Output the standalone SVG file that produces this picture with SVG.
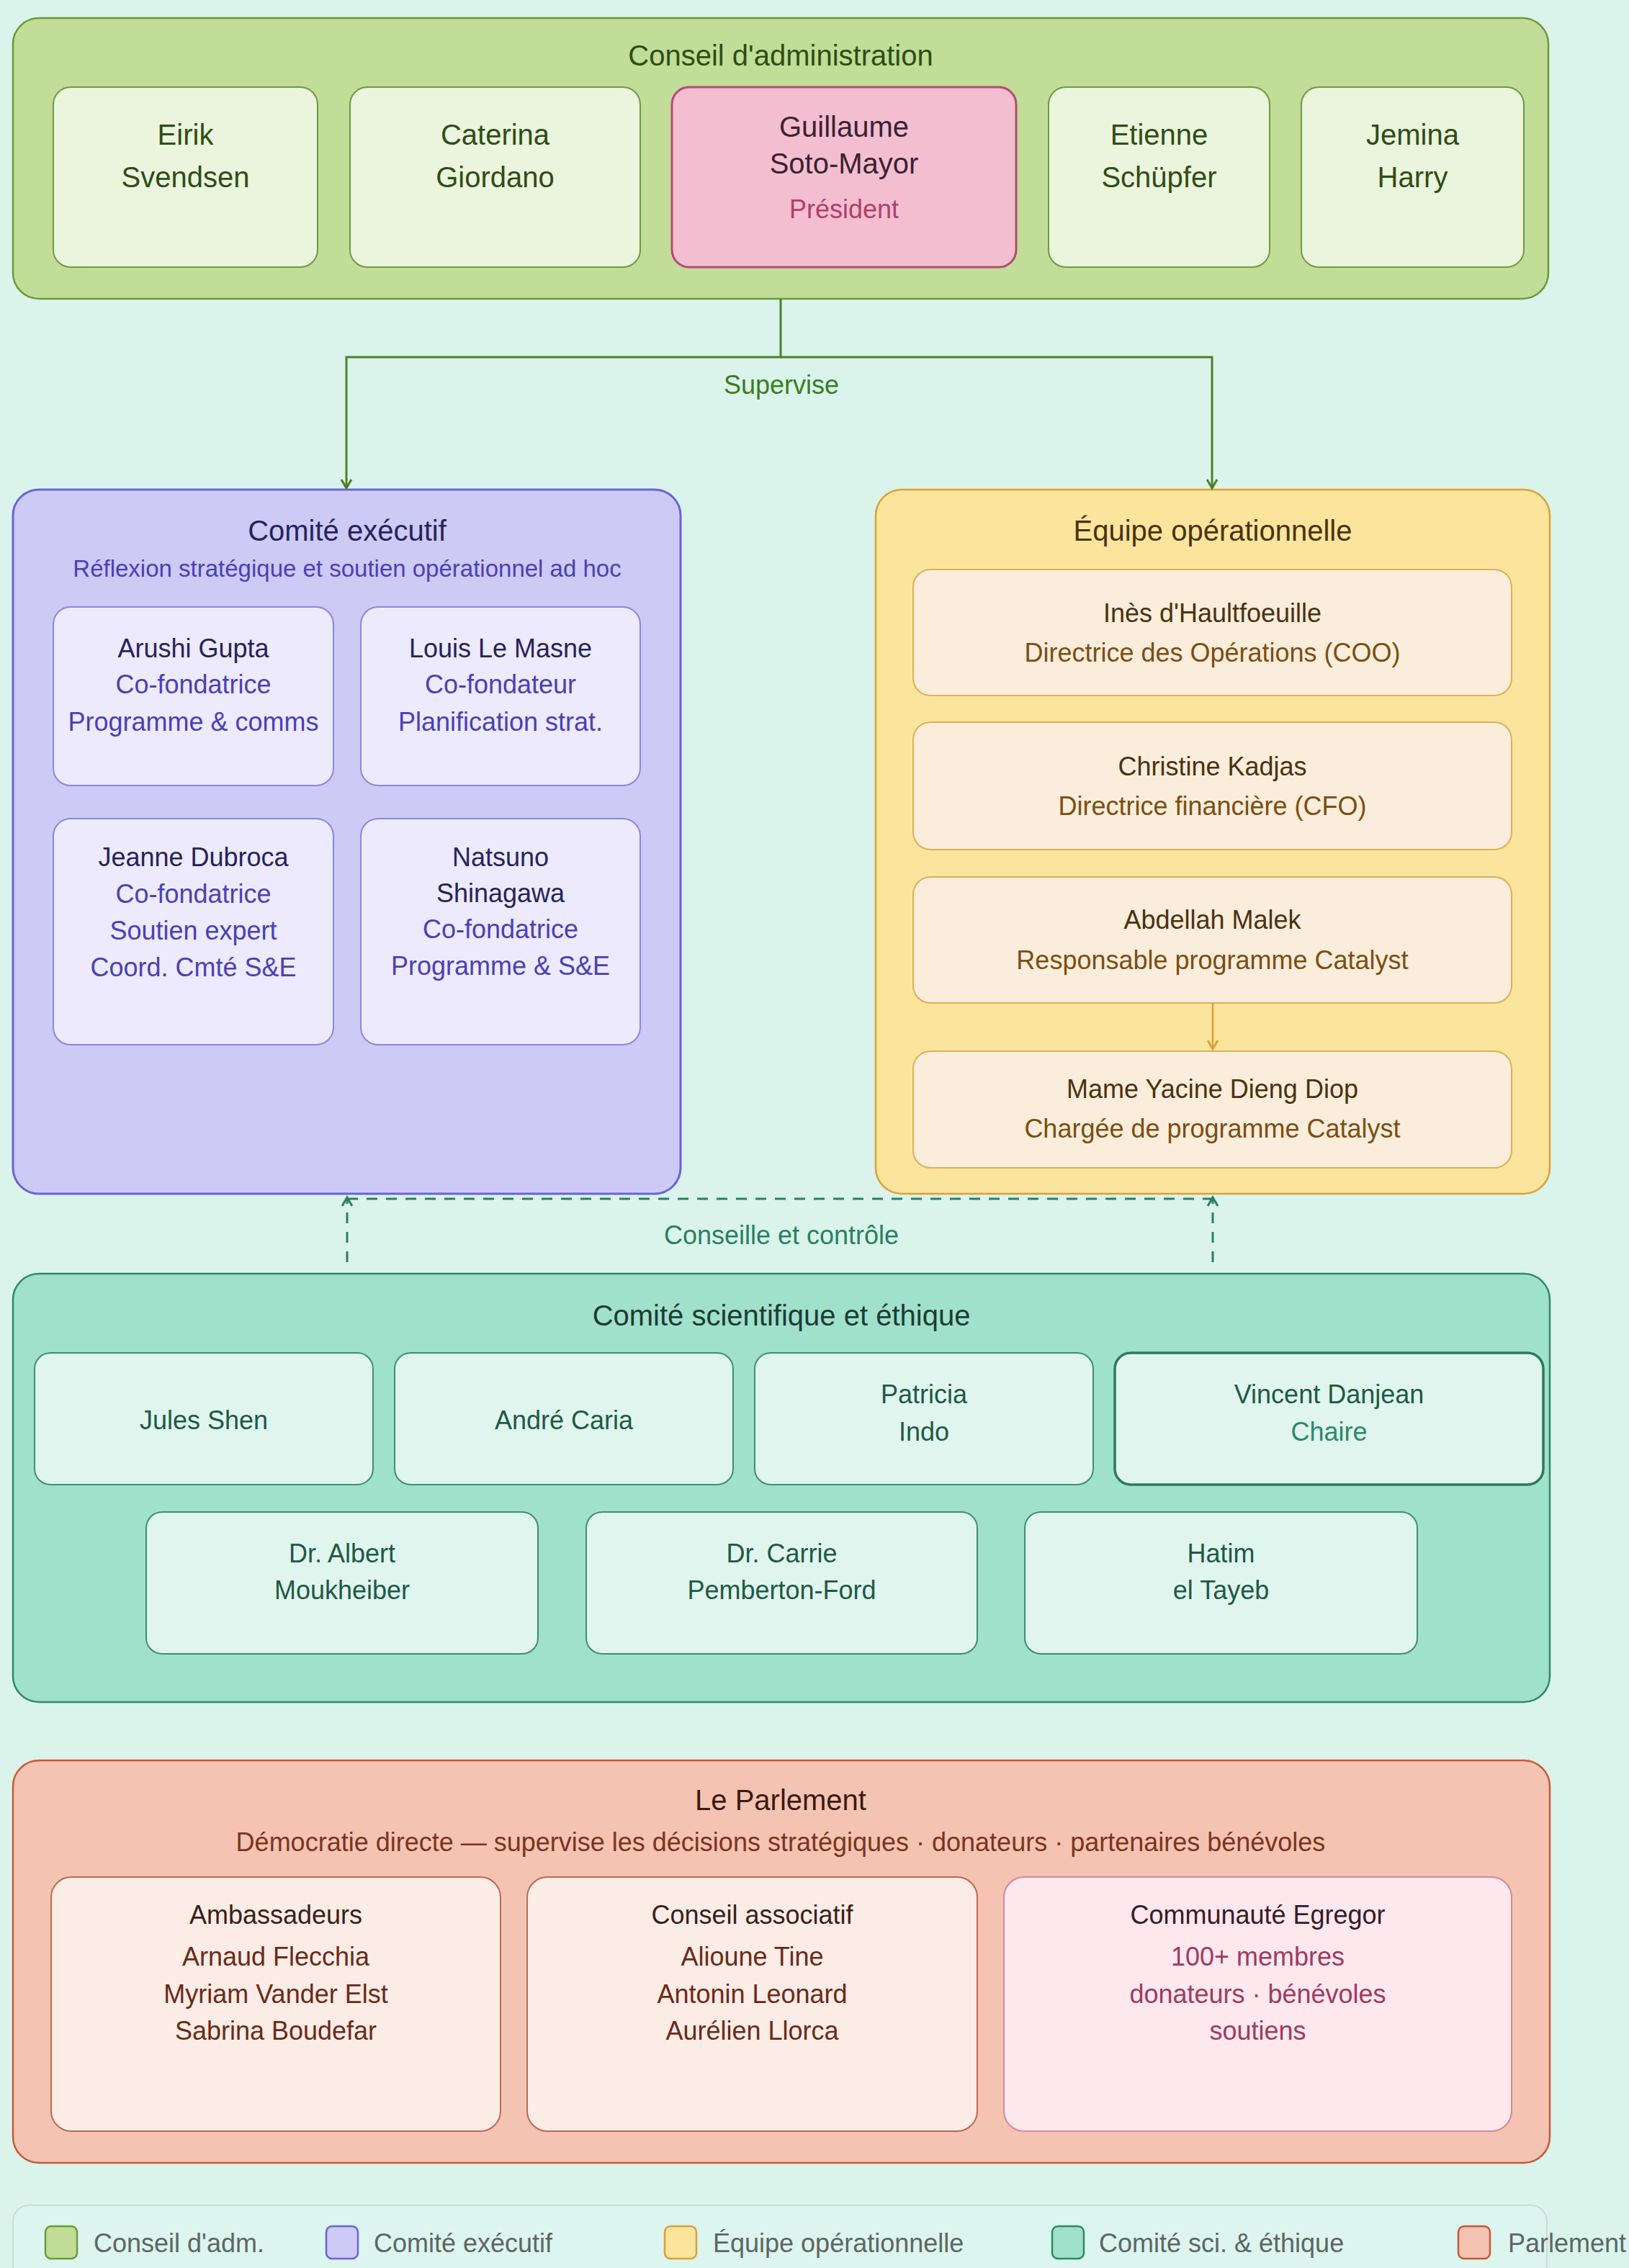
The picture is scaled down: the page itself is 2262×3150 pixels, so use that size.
<svg xmlns="http://www.w3.org/2000/svg" width="2262" height="3150" viewBox="0 0 2262 3150">
<style>
text{font-family:"Liberation Sans",Arial,Helvetica,sans-serif;text-anchor:middle;font-size:36px}
.t40{font-size:40px}
.lg{text-anchor:start;fill:#5e6663}
.board{fill:#c1dd97;stroke:#6b9b3b;stroke-width:2.5}
.bm{fill:#ebf4dd;stroke:#6e9a45;stroke-width:2}
.bt{fill:#2f4d16}
.pres{fill:#f4bed1;stroke:#b44b72;stroke-width:3}
.exec{fill:#cdcaf5;stroke:#6b63d6;stroke-width:3}
.em{fill:#eceafc;stroke:#8d86dc;stroke-width:2}
.en{fill:#27235a}
.er{fill:#4b40b4}
.ops{fill:#fbe59d;stroke:#d9a13a;stroke-width:2.5}
.om{fill:#fbeddb;stroke:#dfae5c;stroke-width:2}
.on{fill:#4a3210}
.or{fill:#7b4e12}
.sci{fill:#a0e1cc;stroke:#2f8a66;stroke-width:2.5}
.sm{fill:#e0f5ee;stroke:#3f8f6e;stroke-width:2}
.st{fill:#1e5a44}
.parl{fill:#f5c3b1;stroke:#c55a3a;stroke-width:2.5}
.pm{fill:#fbece6;stroke:#b86a55;stroke-width:2}
.ph{fill:#3a1f18}
.pn{fill:#6b2a18}
.cm{fill:#fde8ee;stroke:#d9869f;stroke-width:2}
.cn{fill:#a03a60}
.sup{fill:none;stroke:#4e7f2a;stroke-width:3}
.adv{fill:none;stroke:#2a8060;stroke-width:3;stroke-dasharray:15 12}
</style>
<defs>
<marker id="arG" markerUnits="userSpaceOnUse" markerWidth="20" markerHeight="20" viewBox="-14 -10 16 20" refX="0" refY="0" orient="auto"><path d="M-12,-7 L0,0 L-12,7" fill="none" stroke="#4e7f2a" stroke-width="3"/></marker>
<marker id="arT" markerUnits="userSpaceOnUse" markerWidth="20" markerHeight="20" viewBox="-14 -10 16 20" refX="0" refY="0" orient="auto"><path d="M-12,-7 L0,0 L-12,7" fill="none" stroke="#2a8060" stroke-width="3"/></marker>
<marker id="arO" markerUnits="userSpaceOnUse" markerWidth="20" markerHeight="20" viewBox="-14 -10 16 20" refX="0" refY="0" orient="auto"><path d="M-12,-7 L0,0 L-12,7" fill="none" stroke="#d9a13a" stroke-width="3"/></marker>
</defs>
<rect x="0" y="0" width="2262" height="3150" fill="#daf4ec"/>

<g id="conseil">
<rect class="board" x="18" y="25" width="2132" height="390" rx="36"/>
<text class="t40 bt" x="1084" y="91">Conseil d'administration</text>
<g id="eirik"><rect class="bm" x="74" y="121" width="367" height="250" rx="24"/><text class="t40 bt" x="257.5" y="201">Eirik</text><text class="t40 bt" x="257.5" y="260">Svendsen</text></g>
<g id="caterina"><rect class="bm" x="486" y="121" width="403" height="250" rx="24"/><text class="t40 bt" x="687.5" y="201">Caterina</text><text class="t40 bt" x="687.5" y="260">Giordano</text></g>
<g id="guillaume"><rect class="pres" x="933" y="121" width="478" height="250" rx="24"/><text class="t40" x="1172" y="190" fill="#3b2230">Guillaume</text><text class="t40" x="1172" y="241" fill="#3b2230">Soto-Mayor</text><text x="1172" y="303" fill="#b0406a">Président</text></g>
<g id="etienne"><rect class="bm" x="1456" y="121" width="307" height="250" rx="24"/><text class="t40 bt" x="1609.5" y="201">Etienne</text><text class="t40 bt" x="1609.5" y="260">Schüpfer</text></g>
<g id="jemina"><rect class="bm" x="1807" y="121" width="309" height="250" rx="24"/><text class="t40 bt" x="1961.5" y="201">Jemina</text><text class="t40 bt" x="1961.5" y="260">Harry</text></g>
</g>

<g id="comite-executif">
<rect class="exec" x="18" y="680" width="927" height="978" rx="36"/>
<text class="t40 en" x="482" y="751">Comité exécutif</text>
<text class="er" x="482" y="801" style="font-size:33px">Réflexion stratégique et soutien opérationnel ad hoc</text>
<g id="arushi"><rect class="em" x="74" y="843" width="389" height="248" rx="24"/><text class="en" x="268.5" y="913">Arushi Gupta</text><text class="er" x="268.5" y="963">Co-fondatrice</text><text class="er" x="268.5" y="1015">Programme &amp; comms</text></g>
<g id="louis"><rect class="em" x="501" y="843" width="388" height="248" rx="24"/><text class="en" x="695" y="913">Louis Le Masne</text><text class="er" x="695" y="963">Co-fondateur</text><text class="er" x="695" y="1015">Planification strat.</text></g>
<g id="jeanne"><rect class="em" x="74" y="1137" width="389" height="314" rx="24"/><text class="en" x="268.5" y="1203">Jeanne Dubroca</text><text class="er" x="268.5" y="1254">Co-fondatrice</text><text class="er" x="268.5" y="1305">Soutien expert</text><text class="er" x="268.5" y="1356">Coord. Cmté S&amp;E</text></g>
<g id="natsuno"><rect class="em" x="501" y="1137" width="388" height="314" rx="24"/><text class="en" x="695" y="1203">Natsuno</text><text class="en" x="695" y="1253">Shinagawa</text><text class="er" x="695" y="1303">Co-fondatrice</text><text class="er" x="695" y="1354">Programme &amp; S&amp;E</text></g>
</g>

<g id="equipe-operationnelle">
<rect class="ops" x="1216" y="680" width="936" height="978" rx="36"/>
<text class="t40 on" x="1684" y="751">Équipe opérationnelle</text>
<g id="ines"><rect class="om" x="1268" y="791" width="831" height="175" rx="24"/><text class="on" x="1683.5" y="864">Inès d'Haultfoeuille</text><text class="or" x="1683.5" y="919">Directrice des Opérations (COO)</text></g>
<g id="christine"><rect class="om" x="1268" y="1003" width="831" height="177" rx="24"/><text class="on" x="1683.5" y="1077">Christine Kadjas</text><text class="or" x="1683.5" y="1132">Directrice financière (CFO)</text></g>
<g id="abdellah"><rect class="om" x="1268" y="1218" width="831" height="175" rx="24"/><text class="on" x="1683.5" y="1290">Abdellah Malek</text><text class="or" x="1683.5" y="1346">Responsable programme Catalyst</text></g>
<g id="mame"><rect class="om" x="1268" y="1460" width="831" height="162" rx="24"/><text class="on" x="1683.5" y="1525">Mame Yacine Dieng Diop</text><text class="or" x="1683.5" y="1580">Chargée de programme Catalyst</text></g>
</g>

<g id="comite-scientifique">
<rect class="sci" x="18" y="1769" width="2134" height="595" rx="36"/>
<text class="t40" x="1085" y="1841" fill="#1d3c32">Comité scientifique et éthique</text>
<g id="jules"><rect class="sm" x="48" y="1879" width="470" height="183" rx="22"/><text class="st" x="283" y="1985">Jules Shen</text></g>
<g id="andre"><rect class="sm" x="548" y="1879" width="470" height="183" rx="22"/><text class="st" x="783" y="1985">André Caria</text></g>
<g id="patricia"><rect class="sm" x="1048" y="1879" width="470" height="183" rx="22"/><text class="st" x="1283" y="1949">Patricia</text><text class="st" x="1283" y="2001">Indo</text></g>
<g id="vincent"><rect class="sm" x="1548" y="1879" width="595" height="183" rx="22" style="stroke:#2b7a5c;stroke-width:3.5"/><text class="st" x="1845.5" y="1949">Vincent Danjean</text><text x="1845.5" y="2001" fill="#2a8a66">Chaire</text></g>
<g id="albert"><rect class="sm" x="203" y="2100" width="544" height="197" rx="22"/><text class="st" x="475" y="2170">Dr. Albert</text><text class="st" x="475" y="2221">Moukheiber</text></g>
<g id="carrie"><rect class="sm" x="814" y="2100" width="543" height="197" rx="22"/><text class="st" x="1085.5" y="2170">Dr. Carrie</text><text class="st" x="1085.5" y="2221">Pemberton-Ford</text></g>
<g id="hatim"><rect class="sm" x="1423" y="2100" width="545" height="197" rx="22"/><text class="st" x="1695.5" y="2170">Hatim</text><text class="st" x="1695.5" y="2221">el Tayeb</text></g>
</g>

<g id="parlement">
<rect class="parl" x="18" y="2445" width="2134" height="559" rx="36"/>
<text class="t40" x="1084" y="2514" fill="#3a1a14">Le Parlement</text>
<text x="1084" y="2571" fill="#7a3420">Démocratie directe — supervise les décisions stratégiques · donateurs · partenaires bénévoles</text>
<g id="ambassadeurs"><rect class="pm" x="71" y="2607" width="624" height="353" rx="28"/><text class="ph" x="383" y="2672">Ambassadeurs</text><text class="pn" x="383" y="2730">Arnaud Flecchia</text><text class="pn" x="383" y="2782">Myriam Vander Elst</text><text class="pn" x="383" y="2833">Sabrina Boudefar</text></g>
<g id="conseil-associatif"><rect class="pm" x="732" y="2607" width="625" height="353" rx="28"/><text class="ph" x="1044.5" y="2672">Conseil associatif</text><text class="pn" x="1044.5" y="2730">Alioune Tine</text><text class="pn" x="1044.5" y="2782">Antonin Leonard</text><text class="pn" x="1044.5" y="2833">Aurélien Llorca</text></g>
<g id="communaute"><rect class="cm" x="1394" y="2607" width="705" height="353" rx="28"/><text x="1746.5" y="2672" fill="#3a1a24">Communauté Egregor</text><text class="cn" x="1746.5" y="2730">100+ membres</text><text class="cn" x="1746.5" y="2782">donateurs · bénévoles</text><text class="cn" x="1746.5" y="2833">soutiens</text></g>
</g>

<g id="connectors">
<path class="sup" d="M1084,415 V496 H481 V678" marker-end="url(#arG)"/>
<path class="sup" d="M1084,496 H1683 V678" marker-end="url(#arG)"/>
<text x="1085" y="547" fill="#3c7d1c">Supervise</text>
<path class="adv" d="M482,1665 H1684"/>
<path class="adv" d="M482,1753 V1663" marker-end="url(#arT)"/>
<path class="adv" d="M1684,1753 V1663" marker-end="url(#arT)"/>
<text x="1085" y="1728" fill="#2a8060">Conseille et contrôle</text>
<path d="M1684,1393 V1457" fill="none" stroke="#d9a13a" stroke-width="2.5" marker-end="url(#arO)"/>
</g>

<g id="legend">
<rect x="18" y="3063" width="2130" height="140" rx="22" fill="#dcf5ee" stroke="#cbdcd6" stroke-width="2"/>
<rect class="board" x="63" y="3092" width="44" height="45" rx="8"/><text class="lg" x="130" y="3128">Conseil d'adm.</text>
<rect class="exec" x="453" y="3092" width="44" height="45" rx="8" style="stroke-width:2.5"/><text class="lg" x="519" y="3128">Comité exécutif</text>
<rect class="ops" x="923" y="3092" width="44" height="45" rx="8"/><text class="lg" x="990" y="3128">Équipe opérationnelle</text>
<rect class="sci" x="1461" y="3092" width="44" height="45" rx="8"/><text class="lg" x="1526" y="3128">Comité sci. &amp; éthique</text>
<rect class="parl" x="2025" y="3092" width="44" height="45" rx="8"/><text class="lg" x="2094" y="3128">Parlement</text>
</g>
</svg>
